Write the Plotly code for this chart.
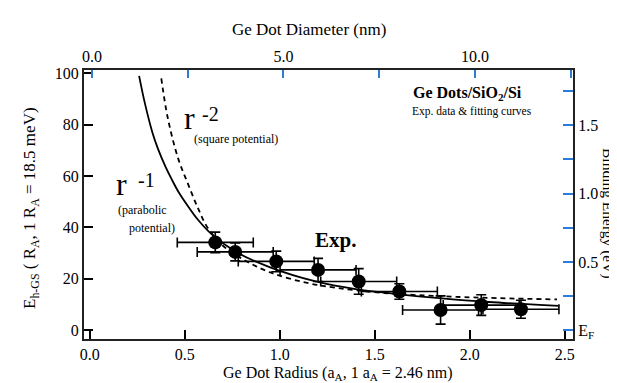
import plotly.graph_objects as go

# ---- data ----
radius = [0.661, 0.766, 0.982, 1.202, 1.416, 1.630, 1.847, 2.061, 2.270]
energy = [34.2, 30.5, 26.8, 23.5, 19.0, 15.1, 7.9, 9.8, 8.2]
radius_err = [0.20, 0.20, 0.20, 0.20, 0.20, 0.20, 0.20, 0.20, 0.20]
energy_err = [4.0, 3.5, 4.0, 4.5, 5.0, 3.0, 5.5, 4.0, 3.5]

fit1_r = [0.26, 0.29, 0.33, 0.36, 0.40, 0.43, 0.47, 0.52, 0.57, 0.64, 0.77, 0.95, 1.19, 1.40, 1.63, 1.84, 2.10, 2.47]
fit1_e = [99.0, 88.5, 77.0, 70.5, 63.5, 59.0, 53.5, 48.0, 43.0, 37.5, 30.5, 24.5, 19.0, 16.0, 14.0, 12.5, 11.0, 9.5]

fit2_r = [0.377, 0.41, 0.465, 0.52, 0.57, 0.62, 0.70, 0.81, 0.95, 1.14, 1.30, 1.55, 1.93, 2.46]
fit2_e = [98.0, 83.0, 67.0, 56.5, 47.5, 40.0, 33.0, 27.5, 22.5, 18.5, 16.5, 14.5, 13.0, 12.0]

x_ticks = [0.0, 0.5, 1.0, 1.5, 2.0, 2.5]
x_ticktext = ["0.0", "0.5", "1.0", "1.5", "2.0", "2.5"]
y_ticks = [0, 20, 40, 60, 80, 100]
top_ticks = [0.0, 5.0, 10.0]
top_ticktext = ["0.0", "5.0", "10.0"]
top_minor = [2.5, 7.5, 12.5]
right_ticks = [0.0, 0.5, 1.0, 1.5]
right_ticktext = ["E<sub>F</sub>", "0.5", "1.0", "1.5"]
right_minor = [0.25, 0.75, 1.25, 1.75]

# ---- layout geometry ----
W, H = 617, 383
L, R, T, B = 76, 52, 62, 52
PW, PH = W - L - R, H - T - B

XR = [-0.03, 2.544]
YR = [-3.4, 101.3]
NM_PER_UNIT = 4.96
TOP_OFF = 0.012
XR2 = [(XR[0] - TOP_OFF) * NM_PER_UNIT, (XR[1] - TOP_OFF) * NM_PER_UNIT]
UNITS_PER_EV = 53.2
YR2 = [YR[0] / UNITS_PER_EV, YR[1] / UNITS_PER_EV]

FONT = "Liberation Serif, Times New Roman, DejaVu Serif, serif"
BLUE = "#2b7bd9"


def px(x, y):
    return (x - L) / PW, (H - B - y) / PH


fig = go.Figure()

fig.add_trace(go.Scatter(x=fit1_r, y=fit1_e, mode="lines",
                         line=dict(color="black", width=1.8, shape="spline", smoothing=1.0),
                         showlegend=False, hoverinfo="skip"))
fig.add_trace(go.Scatter(x=fit2_r, y=fit2_e, mode="lines",
                         line=dict(color="black", width=1.8, dash="5px,4px", shape="spline", smoothing=1.0),
                         showlegend=False, hoverinfo="skip"))
fig.add_trace(go.Scatter(
    x=radius, y=energy, mode="markers",
    marker=dict(color="black", size=14),
    error_x=dict(type="data", array=radius_err, color="black", thickness=1.6, width=5),
    error_y=dict(type="data", array=energy_err, color="black", thickness=1.6, width=5),
    showlegend=False))
# invisible trace to bind top/right axes
fig.add_trace(go.Scatter(x=[XR2[0]], y=[YR2[0]], xaxis="x2", yaxis="y2", mode="markers",
                         marker=dict(opacity=0), showlegend=False, hoverinfo="skip"))

tickfont = dict(family=FONT, size=16, color="black")

fig.update_layout(
    width=W, height=H,
    margin=dict(l=L, r=R, t=T, b=B, autoexpand=False),
    paper_bgcolor="white", plot_bgcolor="white",
    font=dict(family=FONT, color="black"),
    xaxis=dict(range=XR, tickvals=x_ticks, ticktext=x_ticktext, ticks="inside", ticklen=9,
               tickwidth=1.5, tickcolor="black", showline=True, linecolor="#222", linewidth=2,
               showgrid=False, zeroline=False, tickfont=tickfont, automargin=False),
    yaxis=dict(range=YR, tickvals=y_ticks, ticks="inside", ticklen=9, tickwidth=1.5,
               tickcolor="black", showline=True, linecolor="#222", linewidth=2,
               showgrid=False, zeroline=False, tickfont=tickfont, automargin=False),
    xaxis2=dict(range=XR2, overlaying="x", side="top", tickvals=top_ticks, ticktext=top_ticktext,
                ticks="inside", ticklen=8, tickwidth=1.5, tickcolor=BLUE, showline=True,
                linecolor="#222", linewidth=2, showgrid=False, zeroline=False, tickfont=tickfont,
                automargin=False,
                minor=dict(tickmode="array", tickvals=top_minor, ticks="inside", ticklen=8,
                           tickwidth=1.5, tickcolor=BLUE, showgrid=False)),
    yaxis2=dict(range=YR2, overlaying="y", side="right", tickvals=right_ticks, ticktext=right_ticktext,
                ticks="inside", ticklen=10, tickwidth=1.5, tickcolor=BLUE, showline=True,
                linecolor="#222", linewidth=2, showgrid=False, zeroline=False, tickfont=tickfont,
                automargin=False,
                minor=dict(tickmode="array", tickvals=right_minor, ticks="inside", ticklen=10,
                           tickwidth=1.5, tickcolor=BLUE, showgrid=False)),
)

annots = [
    # axis titles
    (330, 365, "Ge Dot Radius (a<sub>A</sub>, 1 a<sub>A</sub> = 2.46 nm)", 16, 0),
    (301, 21, "Ge Dot Diameter (nm)", 17, 0),
    (23, 200, "E<sub>h-GS</sub> ( R<sub>A</sub>, 1 R<sub>A</sub> = 18.5 meV)", 17, -90),
    (600, 205, "Binding Energy (eV)", 15.5, 90),
    # curve labels
    (181, 110, "r", 32, 0),
    (202, 106, "-2", 20, 0),
    (228, 131, "(square potential)", 12, 0),
    (113, 176, "r", 32, 0),
    (138, 172, "-1", 20, 0),
    (134, 202, "(parabolic", 12, 0),
    (144, 220, "potential)", 12, 0),
    (327, 232, "<b>Exp.</b>", 21, 0),
    (459, 86, "<b>Ge Dots/SiO<sub>2</sub>/Si</b>", 16, 0),
    (464, 104, "Exp. data &amp; fitting curves", 11.5, 0),
]
for x, y, t, s, ang in annots:
    ax, ay = px(x, y)
    fig.add_annotation(x=ax, y=ay, xref="paper", yref="paper", text=t, showarrow=False,
                       xanchor="center", yanchor="middle", textangle=ang,
                       font=dict(family=FONT, size=s, color="black"))

fig.write_html("out.html")
